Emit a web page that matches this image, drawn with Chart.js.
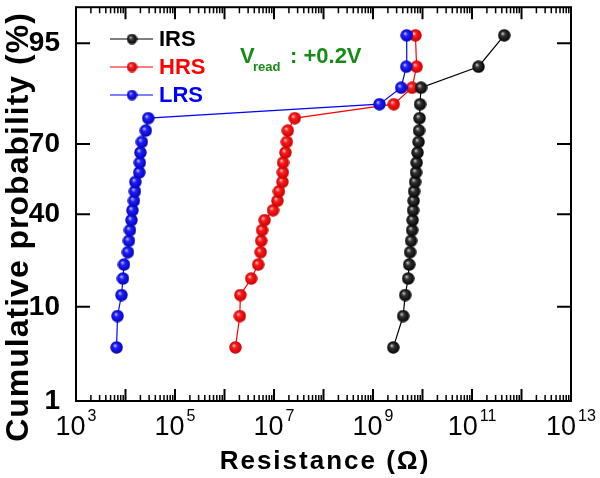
<!DOCTYPE html>
<html>
<head>
<meta charset="utf-8">
<script src="https://cdn.jsdelivr.net/npm/chart.js@4/dist/chart.umd.min.js"></script>
<style>
  html, body { margin: 0; padding: 0; background: #fff; }
  #wrap { width: 600px; height: 478px; }
</style>
</head>
<body>
<div id="wrap"><canvas id="chart" width="600" height="478"></canvas></div>
<script>
// cumulative probability (%) of each rank, shared by the three states
const prob = [4.17, 8.33, 12.5, 16.67, 20.83, 25, 29.17, 33.33, 37.5, 41.67, 45.83, 50,
  54.17, 58.33, 62.5, 66.67, 70.83, 75, 79.17, 83.33, 87.5, 91.67, 95.83];

// resistance (ohm)
const irs = [2.57e9, 4.07e9, 4.47e9, 5.13e9, 5.37e9, 5.62e9, 5.89e9, 6.17e9, 6.31e9, 6.46e9,
  6.61e9, 6.76e9, 7.08e9, 7.41e9, 7.59e9, 7.94e9, 8.32e9, 8.51e9, 8.71e9, 8.91e9, 9.33e9,
  1.35e11, 4.47e11];
const hrs = [1.66e6, 2.04e6, 2.09e6, 3.47e6, 4.79e6, 5.37e6, 5.5e6, 5.75e6, 6.46e6, 9.55e6,
  1.17e7, 1.26e7, 1.48e7, 1.51e7, 1.52e7, 1.7e7, 1.82e7, 1.9e7, 2.63e7, 2.63e9, 6.17e9,
  7.6e9, 7.2e9];
const lrs = [6.6e3, 6.9e3, 8.3e3, 8.9e3, 9.3e3, 1.12e4, 1.17e4, 1.23e4, 1.32e4, 1.38e4,
  1.48e4, 1.55e4, 1.58e4, 1.9e4, 1.95e4, 2.0e4, 2.14e4, 2.57e4, 2.88e4, 1.35e9, 3.7e9,
  4.7e9, 4.8e9];

const seriesNames = ['IRS', 'HRS', 'LRS'];
const yTicks = [1, 10, 40, 70, 95];
const xExponents = [3, 5, 7, 9, 11, 13];

const FONT = "'Liberation Sans', Arial, Helvetica, sans-serif";

// inverse of the normal CDF (Acklam)
function probit(p) {
  const a = [-3.969683028665376e+01, 2.209460984245205e+02, -2.759285104469687e+02, 1.383577518672690e+02, -3.066479806614716e+01, 2.506628277459239e+00];
  const b = [-5.447609879822406e+01, 1.615858368580409e+02, -1.556989798598866e+02, 6.680131188771972e+01, -1.328068155288572e+01];
  const c = [-7.784894002430293e-03, -3.223964580411365e-01, -2.400758277161838e+00, -2.549732539343734e+00, 4.374664141464968e+00, 2.938163982698783e+00];
  const d = [7.784695709041462e-03, 3.224671290700398e-01, 2.445134137142996e+00, 3.754408661907416e+00];
  const pl = 0.02425;
  let q, r;
  if (p < pl) {
    q = Math.sqrt(-2 * Math.log(p));
    return (((((c[0]*q+c[1])*q+c[2])*q+c[3])*q+c[4])*q+c[5]) / ((((d[0]*q+d[1])*q+d[2])*q+d[3])*q+1);
  }
  if (p > 1 - pl) {
    q = Math.sqrt(-2 * Math.log(1 - p));
    return -(((((c[0]*q+c[1])*q+c[2])*q+c[3])*q+c[4])*q+c[5]) / ((((d[0]*q+d[1])*q+d[2])*q+d[3])*q+1);
  }
  q = p - 0.5; r = q * q;
  return (((((a[0]*r+a[1])*r+a[2])*r+a[3])*r+a[4])*r+a[5])*q / (((((b[0]*r+b[1])*r+b[2])*r+b[3])*r+b[4])*r+1);
}

// normal probability axis
class ProbitScale extends Chart.LinearScale {
  determineDataLimits() {
    this.min = this.options.min;
    this.max = this.options.max;
  }
  buildTicks() {
    return yTicks.map(v => ({ value: v }));
  }
  getPixelForValue(v) {
    const lo = probit(this.min / 100), hi = probit(this.max / 100);
    return this.getPixelForDecimal((probit(v / 100) - lo) / (hi - lo));
  }
}
ProbitScale.id = 'probit';
ProbitScale.defaults = Chart.LinearScale.defaults;
Chart.register(ProbitScale);

// shaded ball used as the marker
function sphere(size, light, base, dark) {
  const c = document.createElement('canvas');
  c.width = c.height = size;
  const g = c.getContext('2d');
  const r = size / 2;
  const grad = g.createRadialGradient(r * 0.72, r * 0.68, 0, r, r, r);
  grad.addColorStop(0, light);
  grad.addColorStop(0.35, base);
  grad.addColorStop(1, dark);
  g.fillStyle = grad;
  g.beginPath();
  g.arc(r, r, r - 0.3, 0, Math.PI * 2);
  g.fill();
  return c;
}

const colors = ['#000000', '#ff0000', '#0000ff'];
const balls = [
  sphere(13, '#d8d8d8', '#333333', '#000000'),
  sphere(13, '#ffd8d8', '#ff1a1a', '#c40000'),
  sphere(13, '#d0d0ff', '#2020ff', '#0000b4')
];
const smallBalls = [
  sphere(11, '#d8d8d8', '#333333', '#000000'),
  sphere(11, '#ffd8d8', '#ff1a1a', '#c40000'),
  sphere(11, '#d0d0ff', '#2020ff', '#0000b4')
];

function pts(xs) {
  return xs.map((x, i) => ({ x: x, y: prob[i] }));
}

const decorations = {
  id: 'decorations',
  afterDraw(chart) {
    const ctx = chart.ctx;
    const area = chart.chartArea;
    const xs = chart.scales.x, ys = chart.scales.y;
    ctx.save();
    ctx.strokeStyle = '#000';
    ctx.lineWidth = 2;

    // x tick marks, inward, bottom and top
    for (let e = 3; e <= 13; e++) {
      for (let m = 1; m <= 9; m++) {
        if (e === 13 && m > 1) break;
        const px = xs.getPixelForValue(m * Math.pow(10, e));
        const len = m === 1 ? 12 : 6;
        ctx.lineWidth = m === 1 ? 2 : 1.5;
        ctx.beginPath();
        ctx.moveTo(px, area.bottom); ctx.lineTo(px, area.bottom - len);
        ctx.moveTo(px, area.top); ctx.lineTo(px, area.top + len);
        ctx.stroke();
      }
    }
    // y tick marks, inward, left and right
    ctx.lineWidth = 2;
    yTicks.forEach(v => {
      const py = ys.getPixelForValue(v);
      ctx.beginPath();
      ctx.moveTo(area.left, py); ctx.lineTo(area.left + 14, py);
      ctx.moveTo(area.right, py); ctx.lineTo(area.right - 14, py);
      ctx.stroke();
    });
    // frame
    ctx.lineWidth = 2;
    ctx.strokeRect(area.left, area.top, area.right - area.left, area.bottom - area.top);

    // x tick labels 10^n
    ctx.fillStyle = '#000';
    ctx.textBaseline = 'alphabetic';
    ctx.textAlign = 'left';
    xExponents.forEach(e => {
      const px = xs.getPixelForValue(Math.pow(10, e));
      ctx.font = '27px ' + FONT;
      const w1 = ctx.measureText('10').width;
      ctx.font = '16px ' + FONT;
      const w2 = ctx.measureText(String(e)).width;
      const x0 = px - (w1 + 2 + w2) / 2;
      ctx.font = '27px ' + FONT;
      ctx.fillText('10', x0, 435);
      ctx.font = '16px ' + FONT;
      ctx.fillText(String(e), x0 + w1 + 2, 421);
    });

    // axis titles
    ctx.font = 'bold 26px ' + FONT;
    ctx.letterSpacing = '2px';
    ctx.textAlign = 'center';
    ctx.fillText('Resistance (\u03A9)', 325, 469);
    ctx.save();
    ctx.translate(28, 227);
    ctx.rotate(-Math.PI / 2);
    ctx.font = 'bold 32px ' + FONT;
    ctx.letterSpacing = '1px';
    ctx.fillText('Cumulative probability (%)', 0, 0);
    ctx.restore();
    ctx.letterSpacing = '0px';

    // legend
    const legendY = [39, 67, 95];
    seriesNames.forEach((name, i) => {
      const y = legendY[i];
      ctx.strokeStyle = colors[i];
      ctx.lineWidth = 1.2;
      ctx.beginPath();
      ctx.moveTo(110, y); ctx.lineTo(153, y);
      ctx.stroke();
      const b = smallBalls[i];
      ctx.drawImage(b, 132 - b.width / 2, y - b.height / 2);
      ctx.fillStyle = colors[i];
      ctx.font = 'bold 22px ' + FONT;
      ctx.textAlign = 'left';
      ctx.textBaseline = 'middle';
      ctx.fillText(name, 159, y + 1);
    });

    // read voltage note
    ctx.fillStyle = '#178a17';
    ctx.textBaseline = 'alphabetic';
    ctx.font = 'bold 22px ' + FONT;
    ctx.fillText('V', 240, 63);
    ctx.font = 'bold 13px ' + FONT;
    ctx.fillText('read', 253, 71);
    ctx.font = 'bold 22px ' + FONT;
    ctx.fillText(': +0.2V', 290, 63);
    ctx.restore();
  }
};

new Chart(document.getElementById('chart'), {
  type: 'line',
  data: {
    datasets: [irs, hrs, lrs].map((xs, i) => ({
      label: seriesNames[i],
      data: pts(xs),
      borderColor: colors[i],
      borderWidth: 1.2,
      pointStyle: balls[i],
      pointRadius: 6,
      tension: 0,
      order: [0, 2, 1][i]
    }))
  },
  options: {
    responsive: false,
    animation: false,
    events: [],
    layout: { padding: { left: 0, right: 29, top: 7, bottom: 0 } },
    plugins: { legend: { display: false }, tooltip: { enabled: false } },
    scales: {
      x: {
        type: 'logarithmic',
        min: 1e3,
        max: 1e13,
        grid: { display: false },
        border: { display: false },
        ticks: { display: false },
        afterFit(scale) { scale.height = 77; scale.paddingLeft = 0; scale.paddingRight = 0; }
      },
      y: {
        type: 'probit',
        min: 1,
        max: 97.95,
        grid: { display: false },
        border: { display: false },
        ticks: {
          padding: 8,
          color: '#000',
          font: { family: FONT, size: 28, weight: 'bold' },
          callback: v => String(v)
        },
        afterFit(scale) { scale.width = 76; scale.paddingTop = 0; scale.paddingBottom = 0; }
      }
    }
  },
  plugins: [decorations]
});
</script>
</body>
</html>
